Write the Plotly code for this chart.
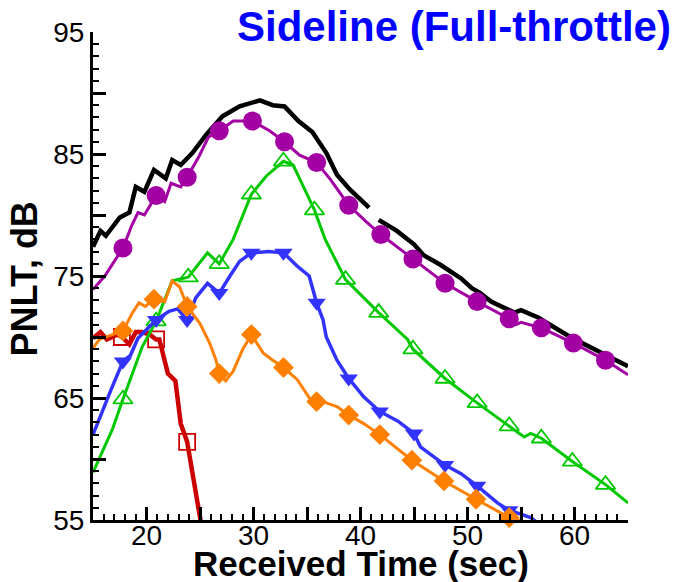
import plotly.graph_objects as go

# ---------------- data ----------------
black_t = [15.0, 15.7, 16.2, 17.5, 18.4, 19.0, 19.8, 20.7, 21.8, 22.4, 23.2, 24.3, 25.6, 27.1, 28.7,
           30.6, 31.8, 32.9, 34.2, 35.5, 36.8, 37.8, 39.0, 40.8, None, 41.7, 43.4, 45.0, 45.9, 47.5,
           49.4, 50.4, 51.2, 52.2, 54.4, 55.0, 56.6, 59.6, 61.8, 64.2, 65.0]
black_v = [77.4, 78.7, 78.3, 79.8, 80.2, 82.3, 81.9, 83.7, 83.0, 84.5, 84.1, 85.1, 86.6, 88.1, 88.9,
           89.4, 89.0, 88.9, 87.7, 86.8, 85.1, 83.3, 82.1, 80.6, None, 79.6, 78.7, 77.6, 76.7, 75.9,
           74.8, 74.0, 73.6, 72.9, 72.0, 72.2, 71.6, 70.0, 69.0, 67.9, 67.6]

purple_t = [15.0, 16.1, 17.8, 18.6, 19.2, 19.8, 20.9, 21.7, 22.3, 23.2, 23.8, 24.9, 25.8, 26.8, 28.1,
            29.9, 31.5, 32.9, 34.3, 35.9, 37.2, 38.9, 40.6, 41.9, 43.7, 44.9, 46.5, 47.9, 50.9, 53.9,
            54.5, 55.0, 56.9, 59.9, 62.9, 65.0]
purple_v = [73.9, 75.0, 77.3, 79.1, 80.2, 80.0, 81.6, 81.1, 82.6, 82.3, 83.1, 84.8, 86.4, 86.9, 87.7,
            87.7, 86.9, 86.0, 84.9, 84.3, 82.9, 80.8, 79.4, 78.4, 77.2, 76.4, 75.3, 74.4, 72.9, 71.5,
            71.0, 71.2, 70.75, 69.5, 68.1, 66.9]
purple_mt = [17.8, 20.9, 23.8, 26.8, 29.9, 32.9, 35.9, 38.9, 41.9, 44.9, 47.9, 50.9, 53.9, 56.9, 59.9, 62.9]
purple_mv = [77.3, 81.6, 83.1, 86.9, 87.7, 86.0, 84.3, 80.8, 78.4, 76.4, 74.4, 72.9, 71.5, 70.75, 69.5, 68.1]

green_t = [15.0, 16.8, 17.8, 18.7, 19.6, 20.9, 21.8, 22.4, 23.9, 25.7, 26.8, 28.1, 29.8, 31.2, 32.8,
           33.7, 34.3, 35.7, 36.7, 38.6, 41.7, 44.4, 44.9, 47.9, 50.9, 53.9, 55.3, 55.9, 56.9, 59.8,
           62.9, 65.0]
green_v = [58.9, 62.4, 64.9, 67.1, 69.2, 71.3, 73.3, 74.6, 74.9, 76.9, 76.0, 78.0, 81.7, 83.2, 84.4,
           84.1, 83.0, 80.4, 78.0, 74.7, 72.0, 69.8, 69.0, 66.6, 64.6, 62.7, 61.8, 62.1, 61.7, 59.8,
           57.9, 56.4]
green_mt = [17.8, 20.9, 23.9, 26.8, 29.8, 32.8, 35.7, 38.6, 41.7, 44.9, 47.9, 50.9, 53.9, 56.9, 59.8, 62.9]
green_mv = [64.9, 71.3, 74.9, 76.0, 81.7, 84.4, 80.4, 74.7, 72.0, 69.0, 66.6, 64.6, 62.7, 61.7, 59.8, 57.9]

blue_t = [15.0, 15.9, 16.7, 17.8, 18.5, 19.2, 19.9, 20.9, 22.1, 22.9, 23.8, 24.6, 25.7, 26.8, 27.8,
          28.7, 29.8, 31.4, 32.8, 34.1, 35.2, 35.9, 36.5, 36.8, 37.8, 38.9, 40.3, 41.8, 43.5, 45.0,
          45.6, 46.9, 47.9, 49.4, 50.9, 52.8, 53.9, 55.9, 56.8]
blue_v = [62.0, 64.0, 65.7, 68.0, 68.5, 69.9, 70.5, 71.4, 72.1, 72.3, 71.4, 73.2, 74.4, 73.6, 75.0,
          76.2, 76.9, 77.0, 76.9, 75.8, 75.0, 72.8, 71.4, 70.0, 68.1, 66.6, 65.1, 63.9, 63.1, 62.1,
          61.0, 60.2, 59.5, 58.8, 57.8, 56.4, 55.8, 55.2, 54.6]
blue_mt = [17.8, 20.9, 23.8, 26.8, 29.8, 32.8, 35.9, 38.9, 41.8, 45.0, 47.9, 50.9, 53.9]
blue_mv = [68.0, 71.4, 71.4, 73.6, 76.9, 76.9, 72.8, 66.6, 63.9, 62.1, 59.5, 57.8, 55.8]

orange_t = [15.0, 15.6, 17.8, 18.7, 19.3, 19.9, 20.7, 21.7, 22.4, 23.1, 23.8, 25.0, 25.9, 26.5, 26.8,
            27.4, 28.1, 29.0, 29.8, 30.9, 31.8, 32.8, 34.1, 35.3, 35.9, 36.8, 37.8, 38.9, 40.3, 41.8,
            44.8, 47.8, 50.8, 53.9, 56.0]
orange_v = [69.1, 69.8, 70.5, 72.0, 72.8, 72.5, 73.1, 72.9, 74.6, 74.1, 72.5, 71.1, 69.5, 68.1, 67.0,
            66.4, 67.2, 69.0, 70.2, 68.7, 68.1, 67.5, 66.5, 64.9, 64.7, 64.6, 64.3, 63.6, 62.9, 62.0,
            59.9, 58.2, 56.7, 55.2, 54.7]
orange_mt = [17.8, 20.7, 23.8, 26.8, 29.8, 32.8, 35.9, 38.9, 41.8, 44.8, 47.8, 50.8, 53.9]
orange_mv = [70.5, 73.1, 72.5, 67.0, 70.2, 67.5, 64.7, 63.6, 62.0, 59.9, 58.2, 56.7, 55.2]

red_t = [15.0, 15.7, 16.3, 17.3, 17.7, 18.4, 19.0, 19.6, 20.3, 20.9, 21.2, 22.0, 22.7, 23.2, 23.8, 25.0, 25.2]
red_v = [69.9, 70.4, 69.8, 70.2, 70.0, 69.4, 70.4, 70.4, 70.2, 69.8, 69.8, 67.0, 66.4, 62.9, 61.4, 55.0, 54.2]
red_mt = [17.7, 20.9, 23.8]
red_mv = [70.0, 69.8, 61.4]

x_major = [15, 20, 25, 30, 35, 40, 45, 50, 55, 60, 65]
x_labels = ["", "20", "", "30", "", "40", "", "50", "", "60", ""]
y_major = [55, 60, 65, 70, 75, 80, 85, 90, 95]
y_labels = ["55", "", "65", "", "75", "", "85", "", "95"]

title_text = "Sideline (Full-throttle)"
x_title = "Received Time (sec)"
y_title = "PNLT, dB"

# ---------------- styles ----------------
C_BLACK = "#000000"
C_PURPLE = "#a300a3"
C_GREEN = "#00c800"
C_BLUE = "#3333ff"
C_ORANGE = "#ff8000"
C_RED = "#cc0000"
FONT = "Liberation Sans, Arial, Helvetica, sans-serif"

fig = go.Figure()


def line(t, v, color, width):
    fig.add_trace(go.Scatter(x=t, y=v, mode="lines", line=dict(color=color, width=width),
                             connectgaps=False, showlegend=False, hoverinfo="skip"))


def marks(t, v, color, symbol, size, lw=0, lc=None):
    fig.add_trace(go.Scatter(x=t, y=v, mode="markers", cliponaxis=False, showlegend=False,
                             marker=dict(symbol=symbol, size=size, color=color,
                                         line=dict(width=lw, color=lc or color)),
                             hoverinfo="skip"))


line(black_t, black_v, C_BLACK, 4.5)
line(purple_t, purple_v, C_PURPLE, 3)
marks(purple_mt, purple_mv, C_PURPLE, "circle", 19)
line(red_t, red_v, C_RED, 4.5)
marks(red_mt, red_mv, C_RED, "square-open", 16, lw=1.8)
line(green_t, green_v, C_GREEN, 3)
marks(green_mt, green_mv, C_GREEN, "triangle-up-open", 17, lw=1.8)
line(blue_t, blue_v, C_BLUE, 3.5)
marks(blue_mt, blue_mv, C_BLUE, "triangle-down", 16)
line(orange_t, orange_v, C_ORANGE, 3)
marks(orange_mt, orange_mv, C_ORANGE, "diamond", 16)

axis_common = dict(showline=True, linecolor="black", linewidth=3, mirror=False,
                   showgrid=False, zeroline=False, ticks="inside", ticklen=13, tickwidth=2.5,
                   tickcolor="black", tickfont=dict(family=FONT, size=28, color="black"))

fig.update_xaxes(range=[15, 65], tickmode="array", tickvals=x_major, ticktext=x_labels,
                 ticklabelstandoff=-12,
                 minor=dict(tickmode="linear", tick0=15, dtick=1, ticks="inside", ticklen=6,
                            tickwidth=1.5, tickcolor="black", showgrid=False),
                 **axis_common)
fig.update_yaxes(range=[55, 95], tickmode="array", tickvals=y_major, ticktext=y_labels,
                 minor=dict(tickmode="linear", tick0=55, dtick=1, ticks="inside", ticklen=6,
                            tickwidth=1.5, tickcolor="black", showgrid=False),
                 **axis_common)

fig.update_layout(
    width=675, height=582,
    margin=dict(l=93, r=47, t=32, b=62),
    plot_bgcolor="white", paper_bgcolor="white",
    showlegend=False,
    font=dict(family=FONT, color="black"),
    annotations=[
        dict(text="<b>" + title_text + "</b>", xref="paper", yref="paper", x=1.085, y=1.011,
             xanchor="right", yanchor="middle", showarrow=False,
             font=dict(family=FONT, size=42, color="#0000ff")),
        dict(text="<b>" + x_title + "</b>", xref="paper", yref="paper", x=0.5, y=-0.089,
             xanchor="center", yanchor="middle", showarrow=False,
             font=dict(family=FONT, size=35, color="black")),
        dict(text="<b>" + y_title + "</b>", xref="paper", yref="paper", x=-0.128, y=0.494,
             xanchor="center", yanchor="middle", textangle=-90, showarrow=False,
             font=dict(family=FONT, size=36, color="black")),
    ],
)

fig.write_html("out.html")
